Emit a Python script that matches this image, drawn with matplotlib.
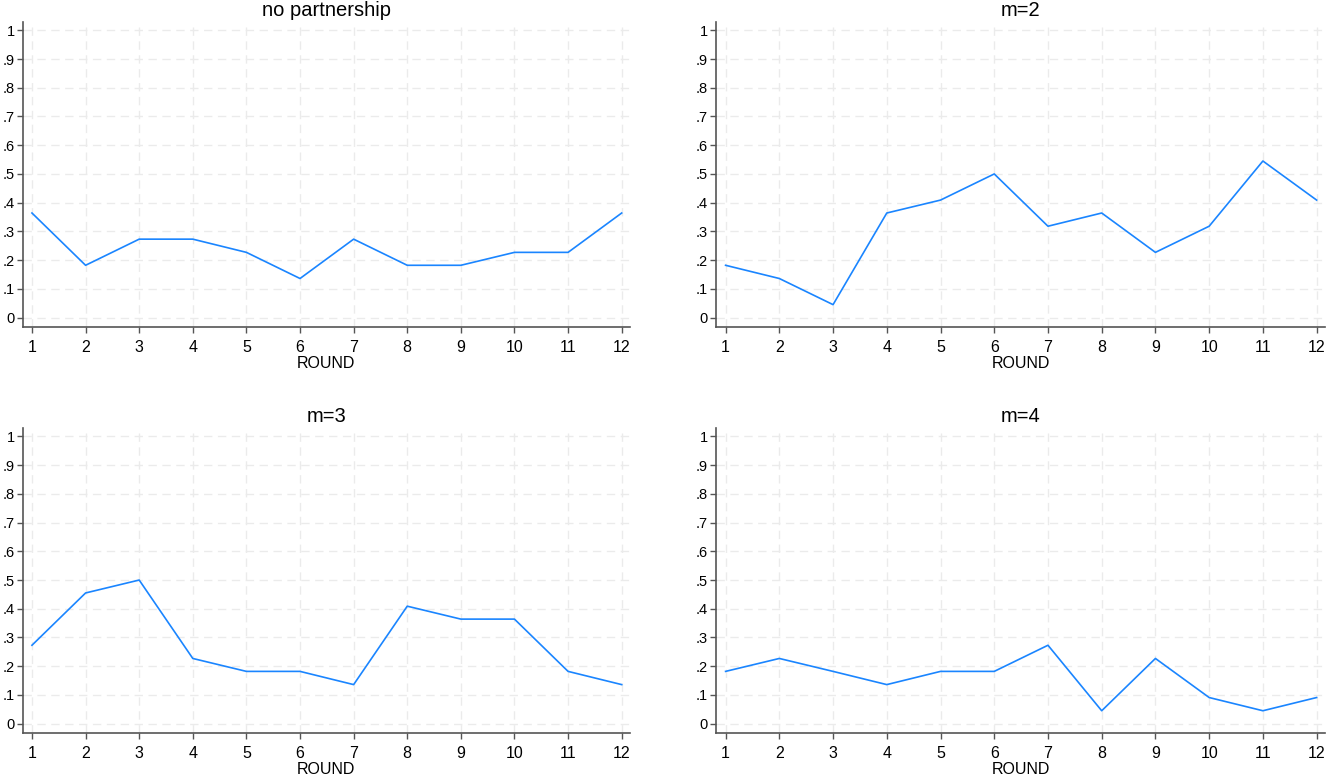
import matplotlib
matplotlib.use("Agg")
import matplotlib.pyplot as plt

rounds = list(range(1, 13))

titles = ["no partnership", "m=2", "m=3", "m=4"]

no_partnership = [.364, .182, .273, .273, .227, .136, .273, .182, .182, .227, .227, .364]
m2 = [.182, .136, .045, .364, .409, .500, .318, .364, .227, .318, .545, .409]
m3 = [.273, .455, .500, .227, .182, .182, .136, .409, .364, .364, .182, .136]
m4 = [.182, .227, .182, .136, .182, .182, .273, .045, .227, .091, .045, .091]

series = [no_partnership, m2, m3, m4]

yticks = [i / 10 for i in range(11)]
ylabels = ["0", ".1", ".2", ".3", ".4", ".5", ".6", ".7", ".8", ".9", "1"]

plt.rcParams['font.family'] = ['Liberation Sans', 'DejaVu Sans']

fig = plt.figure(figsize=(13.28, 7.75), dpi=100)

# axes boxes in figure fraction (left, bottom, width, height)
boxes = [
    (0.0172, 0.578, 0.457, 0.394),
    (0.5395, 0.578, 0.458, 0.394),
    (0.0172, 0.054, 0.457, 0.394),
    (0.5395, 0.054, 0.458, 0.394),
]

for box, title, vals in zip(boxes, titles, series):
    ax = fig.add_axes(box)
    ax.plot(rounds, vals, color='#1a85ff', lw=1.2)
    ax.set_xlim(0.83, 12.15)
    ax.set_ylim(-0.033, 1.03)
    ax.set_xticks(rounds)
    ax.set_yticks(yticks)
    ax.set_yticklabels(ylabels)
    ax.grid(True, color='#ebebeb', linestyle=(0, (6, 4)), lw=1)
    ax.set_axisbelow(True)
    ax.spines['top'].set_visible(False)
    ax.spines['right'].set_visible(False)
    ax.spines['left'].set_color('#555555')
    ax.spines['bottom'].set_color('#555555')
    ax.spines['left'].set_linewidth(1.2)
    ax.spines['bottom'].set_linewidth(1.2)
    ax.tick_params(axis='both', length=4, width=1, color='#555555')
    ax.tick_params(axis='x', pad=5, labelsize=11.5)
    ax.tick_params(axis='y', pad=2, labelsize=10.5)
    ax.set_xlabel('ROUND', fontsize=11.5, labelpad=1)
    ax.set_title(title, fontsize=14.5, pad=4)

fig.savefig('out.png', dpi=100)
